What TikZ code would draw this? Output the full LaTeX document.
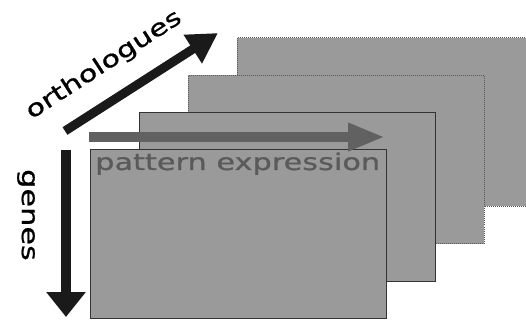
\documentclass[tikz,border=0pt]{standalone}
\usepackage{fontspec}
\setmainfont{DejaVu Sans}
\newfontfamily\widesans[FakeStretch=1.32,FakeBold=0.8]{DejaVu Sans}
\usetikzlibrary{arrows.meta}
\definecolor{slicegray}{HTML}{9A9A9A}
\definecolor{bandgray}{HTML}{616161}
\definecolor{labelgray}{HTML}{5A5A5A}
\definecolor{axisblack}{HTML}{1A1A1A}
\tikzset{
  slice/.style={rectangle,fill=slicegray,minimum width=296pt,minimum height=168pt,inner sep=0pt},
  slicefront/.style={slice,draw=black!80,line width=1pt},
  sliceback/.style={slice,draw=black!65,densely dotted,line width=1pt},
  axisarrow/.style={draw=axisblack,line width=9pt},
  axislabel/.style={font=\widesans\fontsize{23}{23}\selectfont,text=black,inner sep=0pt}
}

\begin{document}
\begin{tikzpicture}[x=1pt,y=-1pt]
    \useasboundingbox (0,0) rectangle (526,320);
    \clip (0,0) rectangle (526,320);
    % stack of slices, back to front
    \node[sliceback]  (S4) at (385,122) {};
    \node[sliceback]  (S3) at (336,159.5) {};
    \node[slicefront] (S2) at (287,197) {};
    \node[slicefront] (S1) at (238,234) {};
    % pattern along the front slice
    \coordinate (P0) at (89,137);
    \coordinate (P1) at (385,137);
    \draw[draw=bandgray,line width=10pt,-{Triangle[length=37pt,width=26pt]}] (P0) -- (P1);
    \node[anchor=base west,font=\widesans\fontsize{23}{23}\selectfont,text=labelgray,inner sep=0pt]
      (pat) at (95,170) {pattern expression};
    % axes
    \coordinate (O0) at (65,131);
    \coordinate (O1) at (218,33);
    \coordinate (G0) at (66,150);
    \coordinate (G1) at (66,317);
    \draw[axisarrow,-{Triangle[length=30pt,width=32pt]}] (O0) -- (O1);
    \draw[axisarrow,line width=10pt,-{Triangle[length=25pt,width=38pt]}] (G0) -- (G1);
    \node[axislabel,rotate=33] (orth) at (104,65) {orthologues};
    \node[axislabel,rotate=-90] (gen) at (26,215) {genes};
\end{tikzpicture}
\end{document}
